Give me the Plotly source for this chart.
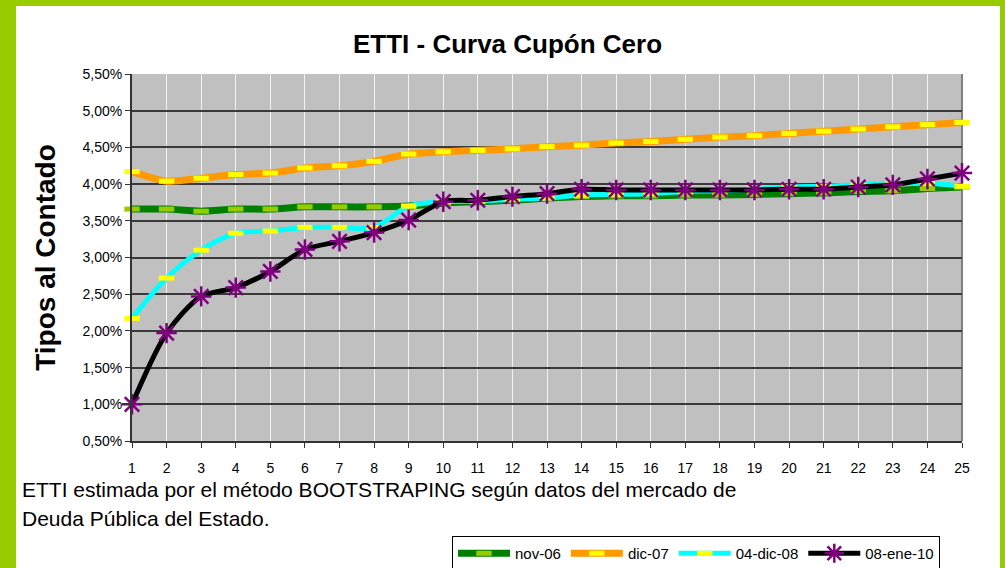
import plotly.graph_objects as go

# plazos (años)
plazos = list(range(1, 26))

# tipos al contado (%)
nov_06 = [3.66, 3.66, 3.63, 3.66, 3.66, 3.69, 3.69, 3.69, 3.70, 3.74, 3.76, 3.78, 3.81,
          3.83, 3.84, 3.84, 3.85, 3.85, 3.86, 3.87, 3.88, 3.90, 3.91, 3.94, 3.96]
dic_07 = [4.17, 4.04, 4.08, 4.13, 4.15, 4.22, 4.25, 4.31, 4.41, 4.44, 4.46, 4.48, 4.51,
          4.53, 4.56, 4.58, 4.61, 4.64, 4.66, 4.69, 4.72, 4.75, 4.78, 4.81, 4.84]
dic_08 = [2.17, 2.72, 3.10, 3.33, 3.36, 3.41, 3.41, 3.41, 3.70, 3.76, 3.77, 3.79, 3.81,
          3.85, 3.86, 3.87, 3.90, 3.91, 3.93, 3.96, 3.97, 3.99, 4.01, 4.01, 3.97]
ene_10 = [1.00, 1.97, 2.47, 2.59, 2.81, 3.11, 3.22, 3.34, 3.51, 3.76, 3.78, 3.83, 3.87,
          3.93, 3.92, 3.92, 3.92, 3.92, 3.92, 3.93, 3.93, 3.96, 3.99, 4.07, 4.15]

y_ticks = [0.5, 1.0, 1.5, 2.0, 2.5, 3.0, 3.5, 4.0, 4.5, 5.0, 5.5]

FONT = "Liberation Sans, Arial, sans-serif"


def pct(values):
    return [v / 100 for v in values]


fig = go.Figure()


def dash_trace(y, name, line_color, line_w, mark_color):
    return go.Scatter(
        x=plazos, y=pct(y), name=name, mode="lines+markers",
        line=dict(color=line_color, width=line_w, shape="spline", smoothing=0.8),
        marker=dict(symbol="line-ew", size=11, color=mark_color,
                    line=dict(color=mark_color, width=5)),
        cliponaxis=False,
    )


fig.add_trace(dash_trace(nov_06, "nov-06", "#008000", 7, "#99CC00"))
fig.add_trace(dash_trace(dic_07, "dic-07", "#FF9900", 7, "#FFFF00"))
fig.add_trace(dash_trace(dic_08, "04-dic-08", "#00FFFF", 5, "#FFFF00"))
fig.add_trace(go.Scatter(
    x=plazos, y=pct(ene_10), name="08-ene-10", mode="lines+markers",
    line=dict(color="#000000", width=5, shape="spline", smoothing=0.8),
    marker=dict(symbol="asterisk-open", size=17, color="#800080",
                line=dict(color="#800080", width=2.5)),
    cliponaxis=False,
))

# borde verde del gráfico
GREEN = "#99CC00"
px0, px1 = -132 / 830, 873 / 830
py0, py1 = -127 / 367, 441 / 367
shapes = [
    dict(type="rect", xref="paper", yref="paper", x0=px0, x1=-116 / 830, y0=py0, y1=py1,
         fillcolor=GREEN, line_width=0, layer="below"),
    dict(type="rect", xref="paper", yref="paper", x0=px0, x1=px1, y0=435 / 367, y1=py1,
         fillcolor=GREEN, line_width=0, layer="below"),
    dict(type="rect", xref="paper", yref="paper", x0=868 / 830, x1=px1, y0=py0, y1=py1,
         fillcolor=GREEN, line_width=0, layer="below"),
    # borde derecho del área de trazado
    dict(type="line", xref="paper", yref="paper", x0=1, x1=1, y0=0, y1=1,
         line=dict(color="#808080", width=2), layer="below"),
]

fig.update_layout(
    width=1005, height=568,
    margin=dict(l=132, r=43, t=74, b=127, autoexpand=False),
    paper_bgcolor="white",
    plot_bgcolor="#C0C0C0",
    font=dict(family=FONT, color="black", size=14),
    separators=",.",
    title=dict(text="ETTI - Curva Cupón Cero", x=0.505, xanchor="center",
               y=1 - 44 / 568, yanchor="middle",
               font=dict(size=26, weight="bold", family=FONT)),
    xaxis=dict(range=[1, 25], tickvals=plazos, showgrid=True, gridcolor="#F2F2F2",
               gridwidth=1, showline=True, linecolor="#333333", linewidth=2,
               ticks="outside", ticklen=5, tickcolor="#333333", tickwidth=1,
               ticklabelstandoff=8, zeroline=False, tickfont=dict(size=14)),
    yaxis=dict(range=[0.005, 0.055], tickvals=pct(y_ticks), tickformat=".2%",
               showgrid=True, gridcolor="#3A3A3A", gridwidth=1.5,
               showline=True, linecolor="#333333", linewidth=2,
               ticks="outside", ticklen=5, tickcolor="#333333", tickwidth=1,
               zeroline=False, tickfont=dict(size=14),
               title=dict(text="Tipos al Contado", standoff=19,
                          font=dict(size=28, weight="bold", family=FONT))),
    legend=dict(orientation="h", x=320 / 830, xanchor="left", y=-95 / 367, yanchor="top",
                bordercolor="black", borderwidth=1, bgcolor="white",
                font=dict(size=15), itemwidth=52, tracegroupgap=0),
    shapes=shapes,
    annotations=[
        dict(text="ETTI estimada por el método BOOTSTRAPING según datos del mercado de",
             xref="paper", yref="paper", x=-112 / 830, y=-48 / 367, xanchor="left",
             yanchor="middle", showarrow=False, font=dict(size=21)),
        dict(text="Deuda Pública del Estado.",
             xref="paper", yref="paper", x=-112 / 830, y=-77 / 367, xanchor="left",
             yanchor="middle", showarrow=False, font=dict(size=21)),
    ],
)

# sin margen en el body para que el gráfico empiece en (0, 0)
fig.write_html("out.html", config={"displayModeBar": False},
               post_script="document.body.style.margin='0';")
